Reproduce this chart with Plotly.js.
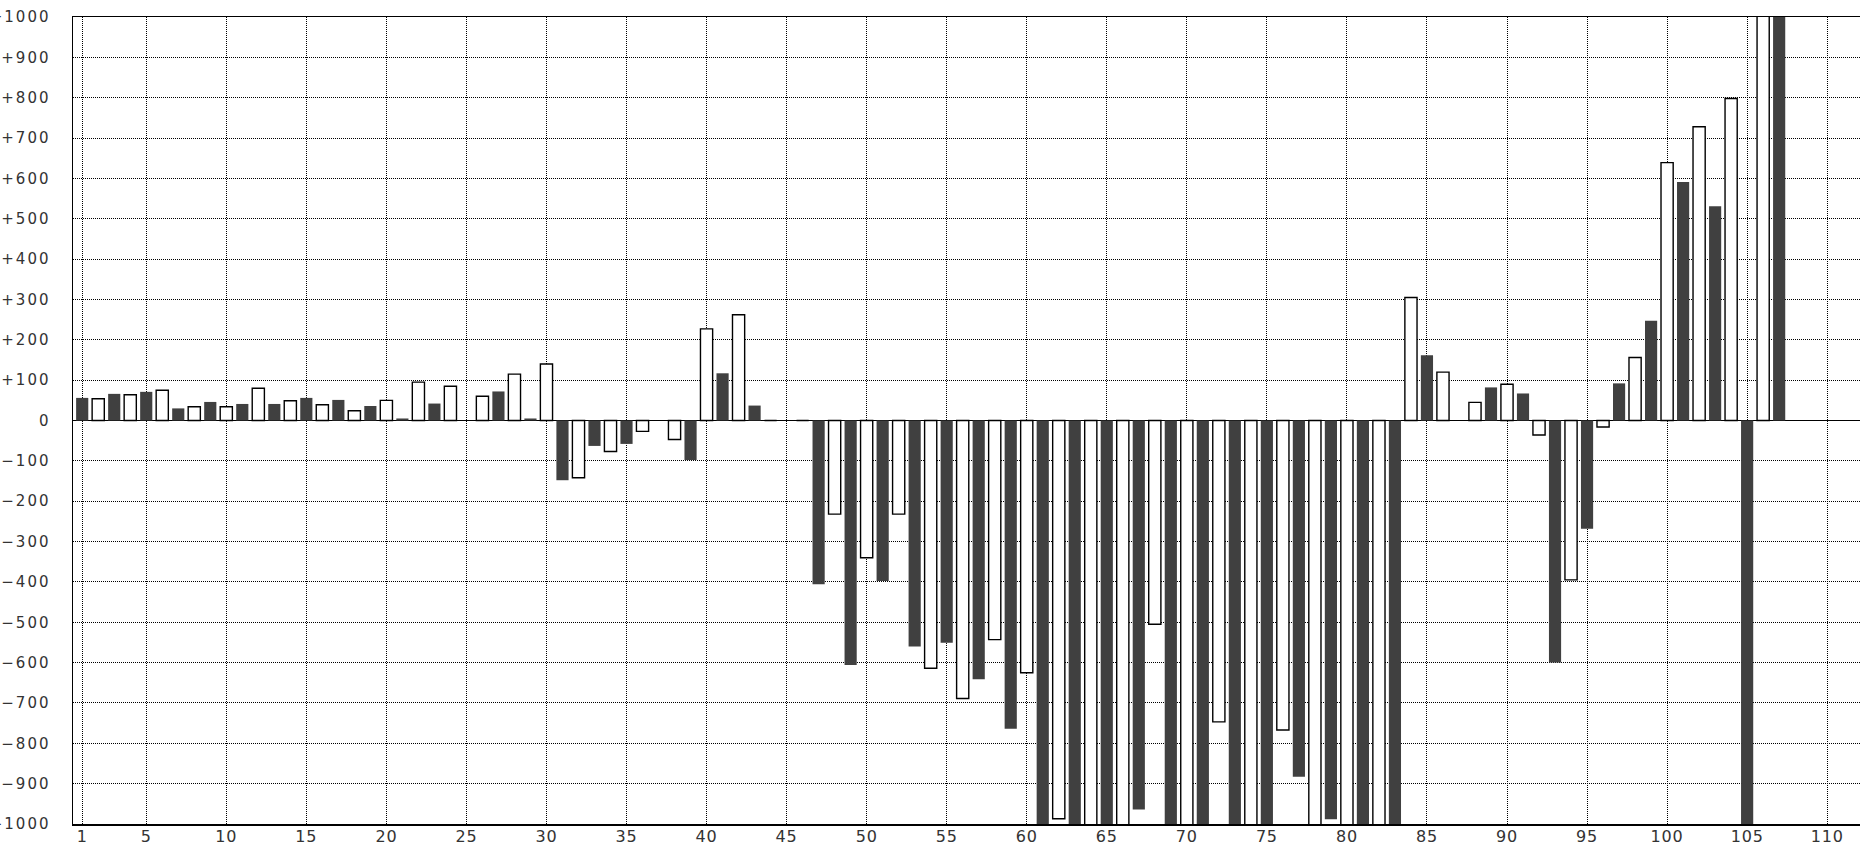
<!DOCTYPE html>
<html>
<head>
<meta charset="utf-8">
<script src="https://cdn.plot.ly/plotly-3.0.1.min.js"></script>
<style>
  html, body { margin: 0; padding: 0; background: #fff; }
  #chart { width: 1860px; height: 846px; }
  .ytick text { letter-spacing: 2px; }
  .xtick text { letter-spacing: 0.8px; }
</style>
</head>
<body>
<div id="chart"></div>
<script>
// Category positions 1..107 (bars beyond the axis are clipped)
var positions = [];
for (var i = 1; i <= 107; i++) positions.push(i);

var values = [
  56, 54, 66, 64, 71, 75, 30, 34, 46, 34,
  41, 80, 41, 49, 56, 39, 51, 24, 36, 50,
  5, 95, 42, 85, 0, 60, 72, 115, 5, 140,
  -148, -142, -63, -77, -58, -27, 0, -47, -98, 227,
  117, 262, 37, 0, 0, 0, -406, -232, -606, -340,
  -398, -232, -560, -614, -551, -689, -641, -543, -764, -625,
  -1100, -987, -1100, -1100, -1100, -1100, -964, -505, -1100, -1100,
  -1100, -747, -1100, -1100, -1100, -767, -883, -1100, -988, -1100,
  -1100, -1100, -1100, 305, 162, 120, 0, 45, 82, 90,
  67, -36, -600, -395, -268, -16, 92, 156, 247, 639,
  591, 728, 531, 798, -1100, 1100, 1100
];

var xTickVals = [1, 5, 10, 15, 20, 25, 30, 35, 40, 45, 50, 55, 60, 65, 70, 75, 80, 85, 90, 95, 100, 105, 110];
var xTickText = xTickVals.map(String);

var yTickVals = [];
for (var v = -1000; v <= 1000; v += 100) yTickVals.push(v);
var yTickText = yTickVals.map(function (v) {
  if (v > 0) return '+' + v;
  if (v < 0) return '\u2212' + Math.abs(v);
  return '0';
});

var DARK = '#404040';
var fillColors = positions.map(function (p) { return p % 2 === 1 ? DARK : '#ffffff'; });
var lineColors = positions.map(function (p) { return p % 2 === 1 ? DARK : '#000000'; });
var lineWidths = positions.map(function (p) { return p % 2 === 1 ? 0 : 1.4; });

var trace = {
  type: 'bar',
  x: positions,
  y: values,
  width: 0.76,
  marker: {
    color: fillColors,
    line: { color: lineColors, width: lineWidths }
  },
  hoverinfo: 'x+y',
  showlegend: false
};

var layout = {
  width: 1860,
  height: 846,
  margin: { l: 73, r: 0, t: 17, b: 22, pad: 0 },
  paper_bgcolor: '#ffffff',
  plot_bgcolor: '#ffffff',
  bargap: 0,
  font: { family: 'DejaVu Sans', color: '#333333' },
  xaxis: {
    range: [0.425, 112.05],
    tickmode: 'array',
    tickvals: xTickVals,
    ticktext: xTickText,
    ticks: '',
    tickfont: { family: 'DejaVu Sans', size: 16, color: '#333333' },
    ticklabelstandoff: -3,
    showgrid: true,
    gridcolor: '#000000',
    gridwidth: 1,
    griddash: '1px,1px',
    showline: true,
    linecolor: '#000000',
    linewidth: 1.5,
    mirror: true,
    zeroline: false,
    fixedrange: true
  },
  yaxis: {
    range: [-1000, 1000],
    tickmode: 'array',
    tickvals: yTickVals,
    ticktext: yTickText,
    ticks: '',
    tickfont: { family: 'DejaVu Sans', size: 15, color: '#333333' },
    ticklabelstandoff: 18,
    showgrid: true,
    gridcolor: '#000000',
    gridwidth: 1,
    griddash: '1px,1px',
    showline: true,
    linecolor: '#000000',
    linewidth: 1.5,
    mirror: false,
    zeroline: true,
    zerolinecolor: '#000000',
    zerolinewidth: 1.5,
    fixedrange: true
  }
};

Plotly.newPlot('chart', [trace], layout, { displayModeBar: false, staticPlot: true });
</script>
</body>
</html>
